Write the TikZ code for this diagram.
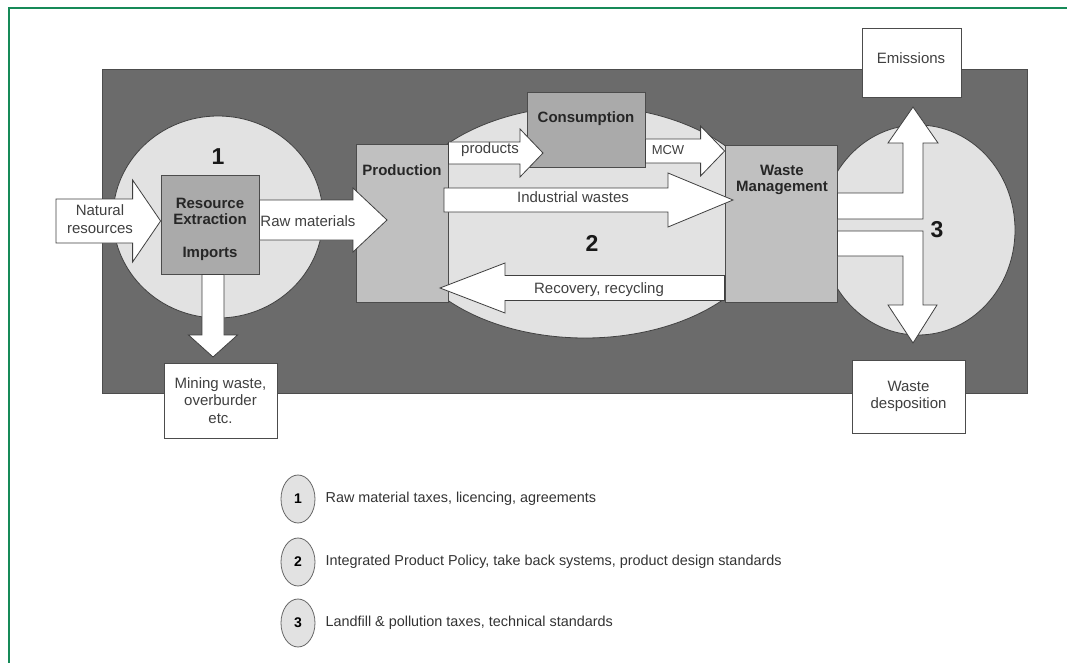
\documentclass[tikz,border=0pt]{standalone}
\usepackage{fontspec}
\setmainfont{Liberation Sans}
\usetikzlibrary{shapes}
\usetikzlibrary{positioning}
\usetikzlibrary{calc}
\definecolor{bgdark}{RGB}{107,107,107}
\definecolor{zonegray}{RGB}{226,226,226}
\definecolor{boxmid}{RGB}{170,170,170}
\definecolor{boxlight}{RGB}{192,192,192}
\definecolor{frameg}{RGB}{22,138,88}
\tikzset{
    greenframe/.style = {line width=2.2pt,draw=frameg},
    zone/.style = {ellipse, draw=black!75, fill=zonegray, line width=0.8pt, inner sep=0pt},
    boxm/.style = {rectangle, draw=black!70, fill=boxmid, line width=0.8pt, inner sep=0pt},
    boxl/.style = {rectangle, draw=black!70, fill=boxlight, line width=0.8pt, inner sep=0pt},
    boxw/.style = {rectangle, draw=black!70, fill=white, line width=0.8pt, align=center, inner sep=0pt,
                   text=black!75, font=\fontsize{15}{17.5}\selectfont},
    arrw/.style = {draw=black!75, fill=white, line width=0.8pt, line join=miter},
    lbl/.style = {font=\fontsize{15}{18}\selectfont, text=black!75, align=center, inner sep=0pt},
    blbl/.style = {font=\fontsize{15}{16}\selectfont\bfseries, text=black!85, align=center, inner sep=0pt},
    num/.style = {font=\fontsize{23}{23}\selectfont\bfseries, text=black!90, inner sep=0pt},
    legnum/.style = {ellipse, draw=black!60, fill=zonegray, line width=0.8pt, minimum width=34pt, minimum height=48pt,
                     inner sep=0pt, font=\fontsize{14}{14}\selectfont\bfseries},
    legtext/.style = {font=\fontsize{14.4}{16}\selectfont, text=black!80, inner sep=0pt}
}
% block arrow: [style] from, to, half body, half head, head length
\newcommand{\blockarrow}[6][]{%
  \path #2 coordinate (ba-s) #3 coordinate (ba-t);
  \coordinate (ba-b) at ($(ba-t)!#6!(ba-s)$);
  \draw[arrw,#1] ($(ba-s)!#4!90:(ba-t)$) -- ($(ba-b)!#4!90:(ba-t)$) -- ($(ba-b)!#5!90:(ba-t)$)
    -- (ba-t) -- ($(ba-b)!#5!-90:(ba-t)$) -- ($(ba-b)!#4!-90:(ba-t)$) -- ($(ba-s)!#4!-90:(ba-t)$) -- cycle;}

\begin{document}
\begin{tikzpicture}[x=1pt,y=-1pt]
\path[use as bounding box] (0,0) rectangle (1067,663);
%
\draw[greenframe] (9,663) -- (9,8) -- (1067,8);
\draw[draw=black!70,fill=bgdark] (102,69) rectangle (1027,393);
%
\node[zone, minimum width=210pt, minimum height=202pt] at (218,217) (z1) {};
\node[zone, minimum width=372pt, minimum height=232pt] at (585,222) (z2) {};
\node[zone, minimum width=194pt, minimum height=210pt] at (918,230) (z3) {};
%
\node[boxm, minimum width=98pt, minimum height=99pt] at (210,224.5) (res) {};
\node[boxl, minimum width=92pt, minimum height=158pt] at (402,223) (prod) {};
\node[boxm, minimum width=118pt, minimum height=75pt] at (586,129.5) (cons) {};
\node[boxl, minimum width=112pt, minimum height=157pt] at (781,223.5) (wm) {};
\node[boxw, minimum width=113pt, minimum height=75pt] at (220.5,400.5) (mine) {Mining waste,\\overburder\\etc.};
\node[boxw, minimum width=99pt, minimum height=69pt] at (911.5,62.5) (emis) {};
\node[boxw, minimum width=113pt, minimum height=73pt] at (908.5,396.5) (disp) {Waste\\desposition};
%
\node[blbl] at (210,211) (reslbl) {Resource\\Extraction};
\node[blbl] at (210,254) (implbl) {Imports};
\node[blbl] at (402,170) (prodlbl) {Production};
\node[blbl] at (586,119) (conslbl) {Consumption};
\node[blbl] at (782,180) (wmlbl) {Waste\\Management};
\node[lbl] at (911,58) (emislbl) {Emissions};
%
\coordinate (natsrc) at (56,221);
\coordinate (rawtip) at (387,220);
\coordinate (minetip) at (213,357);
\coordinate (prodtip) at (543,153);
\coordinate (indtip) at (733,200);
\coordinate (rectip) at (440,288);
%
\blockarrow{(natsrc)}{(res.west |- natsrc)}{22pt}{41pt}{28pt}
\blockarrow{(res.east |- rawtip)}{(rawtip)}{20pt}{32pt}{34pt}
\blockarrow{(minetip |- res.south)}{(minetip)}{11pt}{24.5pt}{22pt}
\blockarrow{(prod.east |- prodtip)}{(prodtip)}{11pt}{24pt}{23pt}
\blockarrow{(cons.east |- 0,151)}{(wm.west |- 0,151)}{12pt}{25pt}{24pt}
\blockarrow{(444,200)}{(indtip)}{12pt}{27pt}{65pt}
\blockarrow{(wm.west |- rectip)}{(rectip)}{12.5pt}{25pt}{65pt}
%
\draw[arrw] (wm.east |- 0,193) -- (903,193) -- (903,143) -- (888,143) -- (913,107) -- (938,143)
  -- (923,143) -- (923,219) -- (wm.east |- 0,219) -- cycle;
\draw[arrw] (wm.east |- 0,231) -- (923,231) -- (923,305) -- (937,305) -- (913,343) -- (888,305)
  -- (903,305) -- (903,256) -- (wm.east |- 0,256) -- cycle;
%
\node[lbl] at (100,219) {Natural\\resources};
\node[lbl] at (308,221) {Raw materials};
\node[lbl] at (490,150) {products};
\node[lbl, font=\fontsize{13}{13}\selectfont] at (668,150) {MCW};
\node[lbl] at (573,197) {Industrial wastes};
\node[lbl] at (599,290) {Recovery, recycling};
%
\node[num] at (218,157) (n1) {1};
\node[num] at (592,243) (n2) {2};
\node[num] at (937,230) (n3) {3};
%
\node[legnum] at (298,499) (leg1) {1};
\node[legnum] at (298,562) (leg2) {2};
\node[legnum] at (298,623) (leg3) {3};
\node[legtext, right=10pt of leg1] (legt1) {Raw material taxes, licencing, agreements};
\node[legtext, right=10pt of leg2] (legt2) {Integrated Product Policy, take back systems, product design standards};
\node[legtext, right=10pt of leg3] (legt3) {Landfill \& pollution taxes, technical standards};
\end{tikzpicture}
\end{document}
